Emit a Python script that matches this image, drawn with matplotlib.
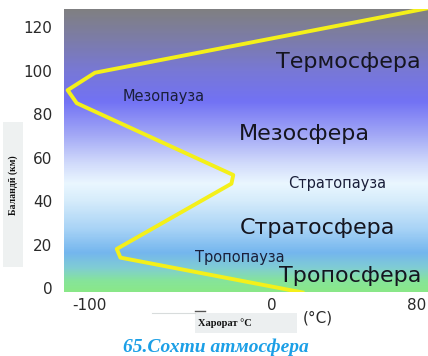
import matplotlib
matplotlib.use("Agg")
import matplotlib.pyplot as plt
import numpy as np
from matplotlib.colors import LinearSegmentedColormap, to_rgb
from matplotlib.patches import Rectangle
from matplotlib.lines import Line2D

# temperature profile (deg C) vs altitude (km)
temperature = [17, -83, -85, -22, -21, -107, -112, -97, 88]
altitude = [-2, 14, 18, 48, 52, 85, 91, 99, 129]

# layer labels
layer_names = ["Термосфера", "Мезосфера", "Стратосфера", "Тропосфера"]
layer_x = [42, 18, 25, 43]
layer_y = [104, 71, 27.5, 5.5]

pause_names = ["Мезопауза", "Стратопауза", "Тропопауза"]
pause_x = [-59, 36, -17.5]
pause_y = [88, 48, 14]

x_ticks = [-100, 0, 80]
x_tick_labels = ["-100", "0", "80"]
y_ticks = [0, 20, 40, 60, 80, 100, 120]
y_tick_labels = ["0", "20", "40", "60", "80", "100", "120"]

# sky colour stops (altitude km -> colour)
sky_alt = [-2, 3, 9, 16, 27, 40, 48, 58, 70, 86, 100, 114, 129]
sky_col = ['#8ae888', '#86e49a', '#80cdd4', '#74b6ee', '#a8d3f6', '#d6ecfb',
           '#eaf7ff', '#cfd8fb', '#a4aaf6', '#7272f4', '#7878d6', '#7c7caa', '#808080']

xlim = (-114, 86)
ylim = (-1.8, 128.3)

plt.rcParams['font.family'] = 'DejaVu Sans'
fig = plt.figure(figsize=(4.28, 3.56), dpi=100)
W, H = 428.0, 356.0
ax = fig.add_axes([64 / W, 1 - 292 / H, 1 - 64 / W, (292 - 9) / H])

# background gradient
pos = [(a - sky_alt[0]) / (sky_alt[-1] - sky_alt[0]) for a in sky_alt]
cmap = LinearSegmentedColormap.from_list("sky", list(zip(pos, [to_rgb(c) for c in sky_col])))
grad = np.linspace(0, 1, 400).reshape(-1, 1)
ax.imshow(grad, cmap=cmap, aspect='auto', origin='lower',
          extent=[xlim[0], xlim[1], sky_alt[0], sky_alt[-1]], zorder=0)

ax.plot(temperature, altitude, color='#f4f01a', lw=2.8, solid_joinstyle='round', zorder=3)

for name, x, y in zip(layer_names, layer_x, layer_y):
    ax.text(x, y, name, fontsize=16, color='#15151f', ha='center', va='center', zorder=4)
for name, x, y in zip(pause_names, pause_x, pause_y):
    ax.text(x, y, name, fontsize=10.5, color='#1a1f3a', ha='center', va='center', zorder=4)

ax.set_xlim(xlim)
ax.set_ylim(ylim)
ax.set_xticks(x_ticks)
ax.set_xticklabels(x_tick_labels)
ax.set_yticks(y_ticks)
ax.set_yticklabels(y_tick_labels)
ax.tick_params(length=0, labelsize=11, colors='#2a2a2a')
ax.tick_params(axis='y', pad=8.5)
ax.tick_params(axis='x', pad=4)
for s in ax.spines.values():
    s.set_visible(False)

# y label box
fig.add_artist(Rectangle((3 / W, 1 - 267 / H), 20 / W, 145 / H, transform=fig.transFigure,
                         facecolor='#eef1f1', edgecolor='none'))
fig.text(13 / W, 1 - 185 / H, "Баландӣ (км)", rotation=90, ha='center', va='center',
         fontsize=7, fontweight='bold', family='Liberation Serif', color='#111111')

# x label box
fig.add_artist(Line2D([152 / W, 195 / W], [1 - 313 / H, 1 - 313 / H], transform=fig.transFigure,
                      color='#d8dcdc', lw=0.8))
fig.add_artist(Line2D([195 / W, 205 / W], [1 - 311 / H, 1 - 311 / H], transform=fig.transFigure,
                      color='#555555', lw=1.0))
fig.add_artist(Rectangle((195 / W, 1 - 333 / H), 102 / W, 20 / H, transform=fig.transFigure,
                         facecolor='#eceff0', edgecolor='none'))
fig.text(198 / W, 1 - 323 / H, "Харорат °C", ha='left', va='center',
         fontsize=7.5, fontweight='bold', family='Liberation Serif', color='#111111')
fig.text(303 / W, 1 - 318 / H, "(°C)", ha='left', va='center', fontsize=11, color='#2a2a2a')

# caption
fig.text(216 / W, 1 - 347 / H, "65.Сохти атмосфера", ha='center', va='center',
         fontsize=14, fontweight='bold', style='italic', family='Liberation Serif', color='#1b9fe6')

fig.savefig("out.png", dpi=100)
